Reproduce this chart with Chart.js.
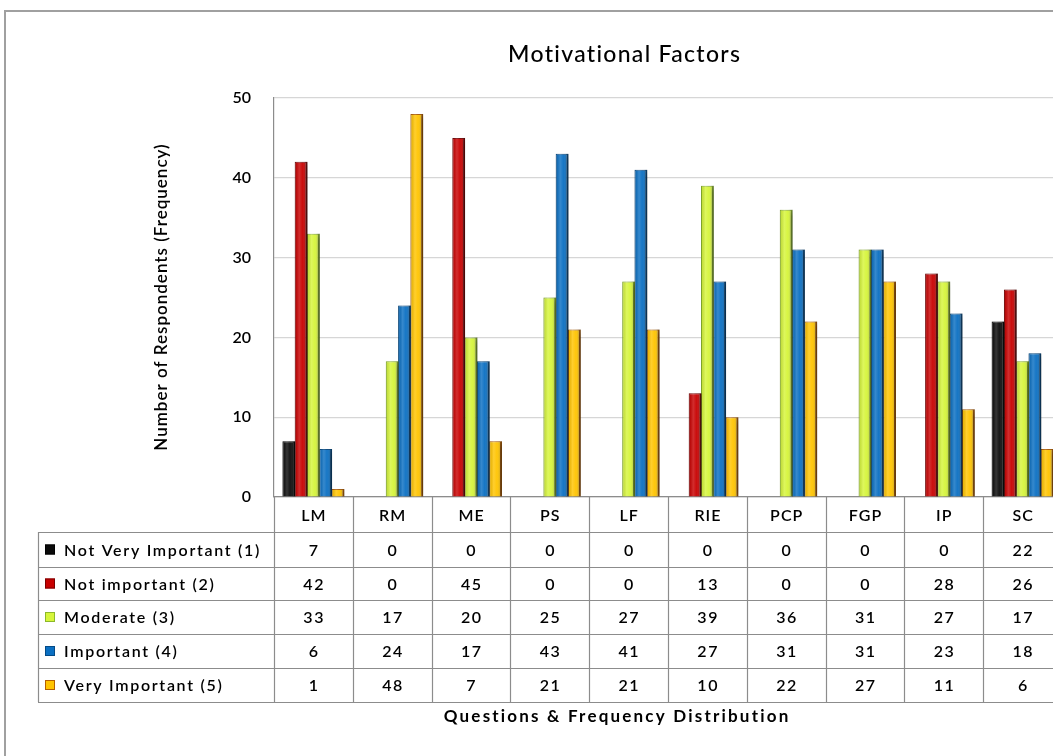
<!DOCTYPE html>
<html>
<head>
<meta charset="utf-8">
<script src="https://cdn.jsdelivr.net/npm/chart.js@4.4.1/dist/chart.umd.min.js"></script>
<style>
  html, body { margin: 0; padding: 0; background: #fff; overflow: hidden; }
  #frame { position: absolute; left: 4px; top: 10px; width: 1100px; height: 800px;
           border-left: 2px solid #a0a0a0; border-top: 2px solid #a0a0a0; }
  #wrap { position: absolute; left: 0; top: 0; width: 1066px; height: 756px; }
</style>
</head>
<body>
<div id="frame"></div>
<div id="wrap"><canvas id="factorsChart"></canvas></div>
<script>
const questions = ['LM', 'RM', 'ME', 'PS', 'LF', 'RIE', 'PCP', 'FGP', 'IP', 'SC'];
const seriesNames = ['Not Very Important (1)', 'Not important (2)', 'Moderate (3)', 'Important (4)', 'Very Important (5)'];
const notVeryImportant = [7, 0, 0, 0, 0, 0, 0, 0, 0, 22];
const notImportant = [42, 0, 45, 0, 0, 13, 0, 0, 28, 26];
const moderate = [33, 17, 20, 25, 27, 39, 36, 31, 27, 17];
const important = [6, 24, 17, 43, 41, 27, 31, 31, 23, 18];
const veryImportant = [1, 48, 7, 21, 21, 10, 22, 27, 11, 6];
const yTicks = [0, 10, 20, 30, 40, 50];

const fills = ['#0a0a0a', '#c80000', '#d6f53a', '#0a6fc2', '#ffc400'];
const edges = ['#000000', '#7a0000', '#8cb82a', '#044a86', '#b45f00'];
const allSeries = [notVeryImportant, notImportant, moderate, important, veryImportant];

const FONT = 'Lato, "Open Sans", sans-serif';

function spacedText(ctx, text, x, y, spacing) {
  ctx.letterSpacing = spacing + 'px';
  // letterSpacing adds trailing space too, shift half of it back for centred text
  const shift = ctx.textAlign === 'center' ? spacing / 2 : 0;
  ctx.fillText(text, x + shift, y);
  ctx.letterSpacing = '0px';
}

// bar shadow, like the 3-D look of the original
const shadowPlugin = {
  id: 'barShadow',
  beforeDatasetsDraw(chart) {
    const ctx = chart.ctx;
    ctx.save();
    ctx.shadowColor = 'rgba(0,0,0,0.35)';
    ctx.shadowBlur = 7;
    ctx.shadowOffsetX = 5;
    ctx.shadowOffsetY = 1;
  },
  afterDatasetsDraw(chart) {
    const ctx = chart.ctx;
    ctx.restore();
    // shading over each bar: light middle, darker right side
    ctx.save();
    chart.data.datasets.forEach((ds, di) => {
      chart.getDatasetMeta(di).data.forEach(bar => {
        const h = bar.base - bar.y;
        if (h <= 0) return;
        const l = bar.x - bar.width / 2;
        const g = ctx.createLinearGradient(l, 0, l + bar.width, 0);
        g.addColorStop(0, 'rgba(0,0,0,0.10)');
        g.addColorStop(0.35, 'rgba(255,255,255,0.18)');
        g.addColorStop(0.6, 'rgba(255,255,255,0.05)');
        g.addColorStop(1, 'rgba(0,0,0,0.30)');
        ctx.fillStyle = g;
        ctx.fillRect(l, bar.y, bar.width, h);
      });
    });
    ctx.restore();
  }
};

// data table under the plot + titles
const tablePlugin = {
  id: 'dataTable',
  afterDraw(chart) {
    const ctx = chart.ctx;
    const area = chart.chartArea;
    const n = questions.length;
    const colW = (area.right - area.left) / n;
    const tableLeft = 38;
    const headTop = area.bottom;
    const rowTops = [532, 567, 600, 634, 668, 702];

    ctx.save();
    ctx.fillStyle = '#000';
    ctx.textAlign = 'center';
    ctx.textBaseline = 'middle';

    // title
    ctx.font = '500 23px ' + FONT;
    spacedText(ctx, 'Motivational Factors', 624, 55, 1.3);

    // x title
    ctx.font = 'bold 17px ' + FONT;
    spacedText(ctx, 'Questions & Frequency Distribution', 616, 717, 2.2);

    // y title
    ctx.save();
    ctx.translate(162, (area.top + area.bottom) / 2);
    ctx.rotate(-Math.PI / 2);
    ctx.font = '600 17px ' + FONT;
    spacedText(ctx, 'Number of Respondents (Frequency)', 0, 0, 1.0);
    ctx.restore();

    // grid lines of the table
    ctx.strokeStyle = '#8c8c8c';
    ctx.lineWidth = 1.2;
    rowTops.forEach(y => {
      ctx.beginPath();
      ctx.moveTo(tableLeft, y + 0.5);
      ctx.lineTo(area.right, y + 0.5);
      ctx.stroke();
    });
    ctx.beginPath();
    ctx.moveTo(tableLeft + 0.5, rowTops[0]);
    ctx.lineTo(tableLeft + 0.5, rowTops[rowTops.length - 1]);
    ctx.stroke();
    for (let i = 0; i <= n; i++) {
      const x = Math.round(area.left + i * colW) + 0.5;
      ctx.beginPath();
      ctx.moveTo(x, headTop);
      ctx.lineTo(x, rowTops[rowTops.length - 1]);
      ctx.stroke();
    }

    // header labels
    ctx.font = '600 16px ' + FONT;
    questions.forEach((q, i) => {
      spacedText(ctx, q, area.left + (i + 0.5) * colW, (headTop + rowTops[0]) / 2 + 1, 1);
    });

    // rows
    allSeries.forEach((vals, r) => {
      const yMid = (rowTops[r] + rowTops[r + 1]) / 2 + 1;
      // legend key
      ctx.fillStyle = fills[r];
      ctx.fillRect(45, yMid - 6, 10, 10);
      ctx.strokeStyle = edges[r];
      ctx.lineWidth = 1;
      ctx.strokeRect(45.5, yMid - 5.5, 9, 9);
      ctx.fillStyle = '#000';
      ctx.textAlign = 'left';
      ctx.font = '600 16px ' + FONT;
      spacedText(ctx, seriesNames[r], 64, yMid, 1.7);
      ctx.textAlign = 'center';
      vals.forEach((v, i) => {
        spacedText(ctx, String(v), area.left + (i + 0.5) * colW, yMid, 1.5);
      });
    });
    ctx.restore();
  }
};

new Chart(document.getElementById('factorsChart'), {
  type: 'bar',
  data: {
    labels: questions,
    datasets: allSeries.map((vals, i) => ({
      label: seriesNames[i],
      data: vals,
      backgroundColor: fills[i],
      borderColor: edges[i],
      borderWidth: { left: 1, right: 2, top: 1, bottom: 0 },
      borderSkipped: 'bottom',
      categoryPercentage: 0.78,
      barPercentage: 1.04
    }))
  },
  options: {
    responsive: true,
    maintainAspectRatio: false,
    animation: false,
    layout: { padding: { left: 148, top: 98, right: 4, bottom: 54 } },
    plugins: {
      legend: { display: false },
      title: { display: false },
      tooltip: { enabled: false }
    },
    scales: {
      x: {
        grid: { display: false, drawTicks: false },
        border: { display: true, color: '#8c8c8c', width: 1.2 },
        ticks: { display: false },
        afterFit(scale) { scale.height = 205; }
      },
      y: {
        min: 0,
        max: 50,
        afterBuildTicks(scale) { scale.ticks = yTicks.map(v => ({ value: v })); },
        grid: { color: '#d6d6d6', lineWidth: 1.2, drawTicks: false },
        border: { display: true, color: '#8c8c8c', width: 1.2 },
        ticks: { color: '#000', padding: 23, font: { family: FONT, size: 16, weight: 600 } },
        title: { display: false },
        afterFit(scale) { scale.width = 126; }
      }
    }
  },
  plugins: [shadowPlugin, tablePlugin]
});
</script>
</body>
</html>
